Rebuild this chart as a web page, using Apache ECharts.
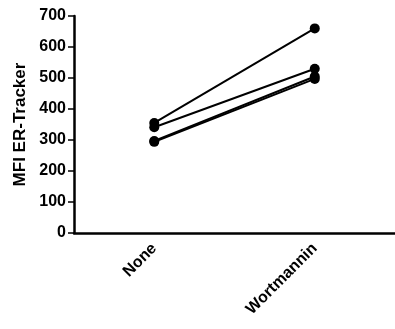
<!DOCTYPE html>
<html><head><meta charset="utf-8">
<script src="https://cdn.jsdelivr.net/npm/echarts@6/dist/echarts.min.js"></script>
<style>html,body{margin:0;padding:0;background:#fff}#c{width:395px;height:329px}</style>
</head><body><div id="c"></div>
<script>
const categories = ['None', 'Wortmannin'];
const seriesA = [355, 660];
const seriesB = [341, 530];
const seriesC = [297, 505];
const seriesD = [294, 497];
const yTicks = [0, 100, 200, 300, 400, 500, 600, 700];

const font = 'Liberation Sans, Arial, sans-serif';
function mk(d) {
  return { type: 'line', data: d, symbol: 'circle', symbolSize: 10,
    lineStyle: { color: '#000', width: 2 }, itemStyle: { color: '#000' }, animation: false };
}
const chart = echarts.init(document.getElementById('c'));
chart.setOption({
  animation: false,
  grid: { left: 74, top: 16, width: 326, height: 217, containLabel: false },
  xAxis: { type: 'category', data: categories, boundaryGap: true,
    axisLine: { lineStyle: { color: '#000', width: 2.5 } },
    axisTick: { alignWithLabel: true, length: 5, lineStyle: { color: '#000', width: 1.5 } },
    axisLabel: { rotate: 45, color: '#000', fontWeight: 'bold', fontSize: 16, fontFamily: font, margin: 13 } },
  yAxis: { type: 'value', min: yTicks[0], max: yTicks[yTicks.length - 1], interval: 100,
    name: 'MFI ER-Tracker', nameLocation: 'middle', nameGap: 41,
    nameTextStyle: { color: '#000', fontWeight: 'bold', fontSize: 17, fontFamily: font },
    splitLine: { show: false },
    axisLine: { show: true, lineStyle: { color: '#000', width: 2.5 } },
    axisTick: { show: true, length: 6, lineStyle: { color: '#000', width: 1.5 } },
    axisLabel: { color: '#000', fontWeight: 'bold', fontSize: 16, fontFamily: font, margin: 8 } },
  series: [mk(seriesA), mk(seriesB), mk(seriesC), mk(seriesD)]
});
</script></body></html>
